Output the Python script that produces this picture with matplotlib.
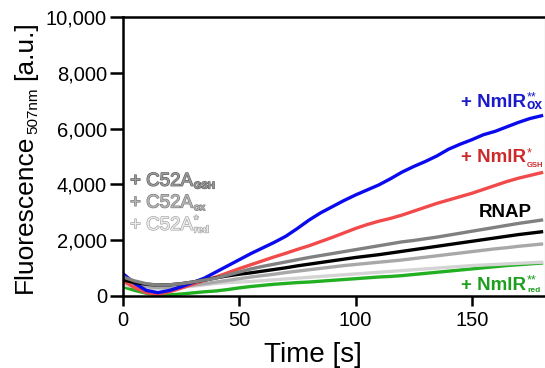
import matplotlib
matplotlib.use("Agg")
import matplotlib.pyplot as plt
import matplotlib.patheffects as pe
from matplotlib.ticker import FuncFormatter

plt.rcParams['font.family'] = ['Liberation Sans', 'DejaVu Sans']

# time axis [s]
time = [0, 5, 10, 15, 20, 25, 30, 35, 40, 45, 50, 55, 60, 65, 70, 75, 80, 85, 90,
        95, 100, 105, 110, 115, 120, 125, 130, 135, 140, 145, 150, 155, 160, 165,
        170, 175, 180]

nmlr_ox = [800, 450, 200, 120, 200, 330, 480, 640, 860, 1080, 1300, 1520, 1720, 1920,
           2140, 2420, 2720, 2980, 3200, 3420, 3620, 3800, 3980, 4200, 4440, 4640,
           4820, 5020, 5260, 5440, 5600, 5780, 5900, 6060, 6220, 6360, 6460]
nmlr_gsh = [550, 300, 120, 60, 150, 280, 420, 560, 680, 830, 980, 1120, 1260, 1400,
            1530, 1670, 1800, 1950, 2100, 2260, 2420, 2560, 2680, 2780, 2900, 3040,
            3180, 3320, 3440, 3560, 3680, 3820, 3960, 4100, 4220, 4320, 4420]
rnap = [580, 480, 420, 390, 400, 440, 500, 570, 650, 720, 780, 830, 890, 950, 1010,
        1080, 1140, 1200, 1260, 1320, 1380, 1430, 1480, 1540, 1600, 1660, 1720, 1780,
        1840, 1900, 1960, 2020, 2080, 2140, 2200, 2250, 2300]
c52a_gsh = [680, 540, 440, 390, 400, 440, 500, 570, 640, 750, 860, 970, 1060, 1140,
            1220, 1300, 1380, 1450, 1520, 1590, 1660, 1730, 1800, 1870, 1940, 1990,
            2050, 2110, 2180, 2250, 2320, 2390, 2460, 2530, 2600, 2660, 2720]
c52a_ox = [500, 400, 330, 300, 310, 340, 390, 440, 500, 560, 620, 680, 730, 780, 840,
           890, 940, 990, 1040, 1090, 1130, 1170, 1210, 1250, 1290, 1340, 1390, 1440,
           1490, 1540, 1590, 1640, 1690, 1730, 1780, 1820, 1860]
c52a_red = [400, 330, 290, 270, 280, 310, 350, 400, 450, 480, 500, 520, 550, 580, 610,
            640, 670, 700, 730, 760, 790, 820, 850, 880, 910, 940, 970, 1000, 1030,
            1060, 1090, 1110, 1130, 1150, 1170, 1190, 1210]
nmlr_red = [330, 200, 100, 40, 40, 70, 110, 150, 180, 230, 290, 340, 380, 420, 450,
            480, 500, 530, 560, 590, 620, 650, 680, 700, 730, 770, 810, 850, 890, 930,
            970, 1010, 1050, 1090, 1120, 1150, 1180]

fig = plt.figure(figsize=(5.45, 3.68), dpi=100)
ax = fig.add_axes([0.2257, 0.1957, 0.7743, 0.7581])

lw = 2.4
ax.plot(time, nmlr_red, color='#22b022', lw=lw)
ax.plot(time, c52a_red, color='#d4d4d4', lw=lw)
ax.plot(time, c52a_ox, color='#a8a8a8', lw=lw)
ax.plot(time, nmlr_gsh, color='#f24a4a', lw=lw)
ax.plot(time, nmlr_ox, color='#0a0aee', lw=lw)
ax.plot(time, rnap, color='black', lw=lw)
ax.plot(time, c52a_gsh, color='#808080', lw=lw)

ax.set_xlim(0, 181.5)
ax.set_ylim(0, 10000)
ax.set_xticks([0, 50, 100, 150])
ax.set_yticks([0, 2000, 4000, 6000, 8000, 10000])
ax.yaxis.set_major_formatter(FuncFormatter(lambda v, p: f"{int(v):,}"))
ax.tick_params(axis='x', direction='out', length=7.2, width=1.8, labelsize=14.5, pad=3.5)
ax.tick_params(axis='y', direction='out', length=9.5, width=1.8, labelsize=14.5, pad=2)
for s in ['left', 'bottom', 'top']:
    ax.spines[s].set_linewidth(1.8)
ax.spines['right'].set_linewidth(0.8)
ax.spines['right'].set_color('#808080')

ax.set_xlabel("Time [s]", fontsize=20)
ax.xaxis.set_label_coords(0.449, -0.165)

# y label built from pieces so the subscript can be small
yl = fig.text(32 / 545, 1 - 293 / 368, "Fluorescence", fontsize=19, rotation=90,
              rotation_mode='anchor', ha='left', va='baseline')
ysub = ax.annotate("507nm", xy=(1, 1), xycoords=yl, xytext=(2.5, 0.5),
                   textcoords='offset points', fontsize=11, rotation=90,
                   ha='right', va='bottom')
ax.annotate("[a.u.]", xy=(1, 1), xycoords=(yl, ysub), xytext=(0, 5),
            textcoords='offset points', fontsize=19, rotation=90,
            ha='right', va='bottom')


def label(x, y, main, sup, sub, color, size=13.5, sup_size=9, sub_size=10,
          sub_dy=0.0, weight='bold', effects=None, sub_weight='bold'):
    t = ax.text(x, y, main, color=color, fontsize=size, fontweight=weight,
                ha='left', va='baseline')
    parts = [t]
    if sup:
        parts.append(ax.annotate(sup, xy=(1, 1), xycoords=t, xytext=(0.5, 1.5),
                                 textcoords='offset points', fontsize=sup_size,
                                 color=color, ha='left', va='top'))
    if sub:
        parts.append(ax.annotate(sub, xy=(1, 0), xycoords=t, xytext=(0.5, sub_dy),
                                 textcoords='offset points', fontsize=sub_size,
                                 fontweight=sub_weight, color=color,
                                 ha='left', va='bottom'))
    if effects:
        for p in parts:
            p.set_path_effects(effects)
    return t


# right-hand labels
label(145.5, 6775, "+ NmlR", "**", "ox", '#1a1acc', sub_size=10, sub_dy=-0.5)
label(145.5, 4800, "+ NmlR", "*", "GSH", '#cc2a2a', sub_size=5.5, sub_dy=-2.0)
ax.text(152.9, 2830, "RNAP", color='black', fontsize=13.5, fontweight='bold',
        ha='left', va='baseline')
label(145.5, 215, "+ NmlR", "**", "red", '#1e9e1e', sub_size=6, sub_dy=0.3)

# left-hand labels (outlined grey)
label(3, 3950, "+ C52A", None, "GSH", '#9a9a9a', size=13.5, sub_size=7, sub_dy=-0.5,
      weight='normal', effects=[pe.withStroke(linewidth=0.9, foreground='#5e5e5e')])
label(3, 3170, "+ C52A", None, "ox", '#b4b4b4', size=13.5, sub_size=7, sub_dy=-0.5,
      weight='normal', effects=[pe.withStroke(linewidth=0.9, foreground='#7c7c7c')])
label(3, 2370, "+ C52A", "*", "red", '#ececec', size=13.5, sub_size=7, sub_dy=-0.5,
      weight='normal', effects=[pe.withStroke(linewidth=0.9, foreground='#a0a0a0')])

fig.savefig("out.png", dpi=100)
